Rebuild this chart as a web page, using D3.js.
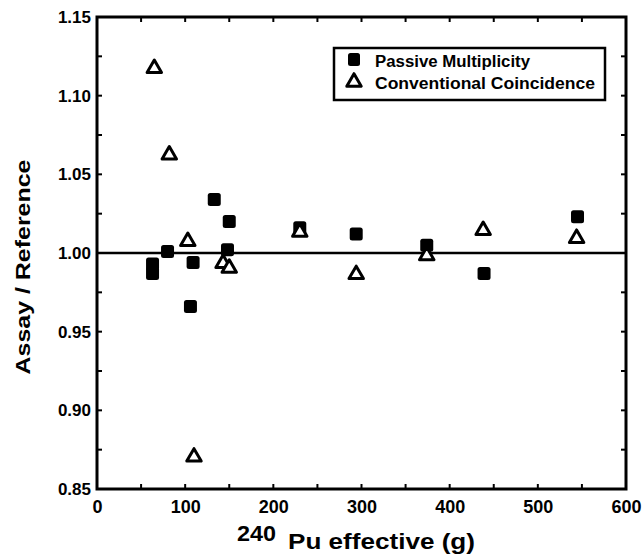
<!DOCTYPE html>
<html>
<head>
<meta charset="utf-8">
<script src="https://cdn.jsdelivr.net/npm/d3@7"></script>
<style>
  body { margin: 0; background: #fff; }
  text { font-family: "Liberation Sans", Arial, sans-serif; font-weight: bold; fill: #000; }
</style>
</head>
<body>
<svg></svg>
<script>
var width = 644;
var height = 560;

// Pu-240 effective mass (g) and assay/reference ratio
var passiveX = [63, 63, 80, 106, 109, 133, 148, 150, 230, 294, 374, 439, 545];
var passiveY = [0.993, 0.987, 1.001, 0.966, 0.994, 1.034, 1.002, 1.020, 1.016, 1.012, 1.005, 0.987, 1.023];

var convX = [65, 82, 103, 110, 143, 150, 230, 294, 374, 438, 544];
var convY = [1.118, 1.063, 1.008, 0.871, 0.994, 0.991, 1.014, 0.987, 0.999, 1.015, 1.010];

var xTicks = [0, 100, 200, 300, 400, 500, 600];
var yTicks = [0.85, 0.90, 0.95, 1.00, 1.05, 1.10, 1.15];
var legendLabels = ["Passive Multiplicity", "Conventional Coincidence"];

var margin = {left: 97, top: 17, right: 18, bottom: 71};

var svg = d3.select("svg")
            .attr("width", width)
            .attr("height", height)

var x = d3.scaleLinear().domain([0, 600]).range([margin.left, width - margin.right]);
var y = d3.scaleLinear().domain([0.85, 1.15]).range([height - margin.bottom, margin.top]);

var minorX = d3.range(0, 601, 50);
var minorY = d3.range(0, 13).map(function(i) { return 0.85 + i * 0.025; });

var x0 = x.range()[0], x1 = x.range()[1];
var y0 = y.range()[0], y1 = y.range()[1];

// frame
svg.append("rect")
    .attr("x", x0).attr("y", y1)
    .attr("width", x1 - x0).attr("height", y0 - y1)
    .attr("fill", "none")
    .attr("stroke", "#000")
    .attr("stroke-width", 3);

// labelled axes
var xAxis = svg.append("g")
    .attr("transform", "translate(0," + y0 + ")")
    .call(d3.axisBottom(x).tickValues(xTicks).tickSize(0).tickPadding(11).tickFormat(d3.format("d")));
xAxis.select(".domain").remove();
xAxis.selectAll("text").style("font-size", "18px").attr("fill", "#000");

var yAxis = svg.append("g")
    .attr("transform", "translate(" + x0 + ",0)")
    .call(d3.axisLeft(y).tickValues(yTicks).tickSize(0).tickPadding(6).tickFormat(d3.format(".2f")));
yAxis.select(".domain").remove();
yAxis.selectAll("text").style("font-size", "17px").attr("fill", "#000");

// inward ticks on all four sides
var ticks = svg.append("g");
minorX.forEach(function(v) {
    ticks.append("line").attr("x1", x(v)).attr("x2", x(v)).attr("y1", y0).attr("y2", y0 - 5);
    ticks.append("line").attr("x1", x(v)).attr("x2", x(v)).attr("y1", y1).attr("y2", y1 + 5);
});
minorY.forEach(function(v) {
    ticks.append("line").attr("x1", x0).attr("x2", x0 + 5).attr("y1", y(v)).attr("y2", y(v));
    ticks.append("line").attr("x1", x1).attr("x2", x1 - 5).attr("y1", y(v)).attr("y2", y(v));
});
ticks.selectAll("line").attr("stroke", "#000").attr("stroke-width", 2);

// reference line at 1.00
svg.append("line")
    .attr("x1", x(0)).attr("x2", x(600))
    .attr("y1", y(1)).attr("y2", y(1))
    .attr("stroke", "#000")
    .attr("stroke-width", 2.5);

var passive = d3.zip(passiveX, passiveY);
var conv = d3.zip(convX, convY);

var sq = 13;
svg.append("g").selectAll("rect")
    .data(passive)
    .enter().append("rect")
    .attr("x", function(d) { return x(d[0]) - sq / 2; })
    .attr("y", function(d) { return y(d[1]) - sq / 2; })
    .attr("width", sq).attr("height", sq)
    .attr("rx", 2.5)
    .attr("fill", "#000");

var tri = d3.symbol().type(d3.symbolTriangle).size(90);
svg.append("g").selectAll("path")
    .data(conv)
    .enter().append("path")
    .attr("d", tri)
    .attr("transform", function(d) { return "translate(" + x(d[0]) + "," + (y(d[1]) + 1) + ")"; })
    .attr("fill", "#fff")
    .attr("stroke", "#000")
    .attr("stroke-width", 3)
    .attr("stroke-linejoin", "round");

// legend
var legend = svg.append("g");
legend.append("rect")
    .attr("x", 334).attr("y", 48)
    .attr("width", 271).attr("height", 52)
    .attr("fill", "#fff")
    .attr("stroke", "#000")
    .attr("stroke-width", 2.5);

legend.append("rect")
    .attr("x", 348).attr("y", 53)
    .attr("width", 12).attr("height", 13)
    .attr("rx", 2.5)
    .attr("fill", "#000");
legend.append("path")
    .attr("d", tri)
    .attr("transform", "translate(354,82)")
    .attr("fill", "#fff")
    .attr("stroke", "#000")
    .attr("stroke-width", 3)
    .attr("stroke-linejoin", "round");

legend.selectAll("text.lab")
    .data(legendLabels)
    .enter().append("text")
    .attr("class", "lab")
    .attr("x", 375)
    .attr("y", function(d, i) { return 67 + i * 22; })
    .attr("textLength", function(d, i) { return i == 0 ? 155 : 220; })
    .attr("lengthAdjust", "spacingAndGlyphs")
    .style("font-size", "16px")
    .text(function(d) { return d; });

// axis titles
svg.append("text")
    .attr("transform", "translate(30," + 267 + ") rotate(-90)")
    .attr("text-anchor", "middle")
    .attr("textLength", 215)
    .attr("lengthAdjust", "spacingAndGlyphs")
    .style("font-size", "21px")
    .text("Assay / Reference");

svg.append("text")
    .attr("x", 237).attr("y", 541)
    .attr("textLength", 39)
    .attr("lengthAdjust", "spacingAndGlyphs")
    .style("font-size", "22px")
    .text("240");

svg.append("text")
    .attr("x", 288).attr("y", 549)
    .attr("textLength", 187)
    .attr("lengthAdjust", "spacingAndGlyphs")
    .style("font-size", "22px")
    .text("Pu effective (g)");
</script>
</body>
</html>
